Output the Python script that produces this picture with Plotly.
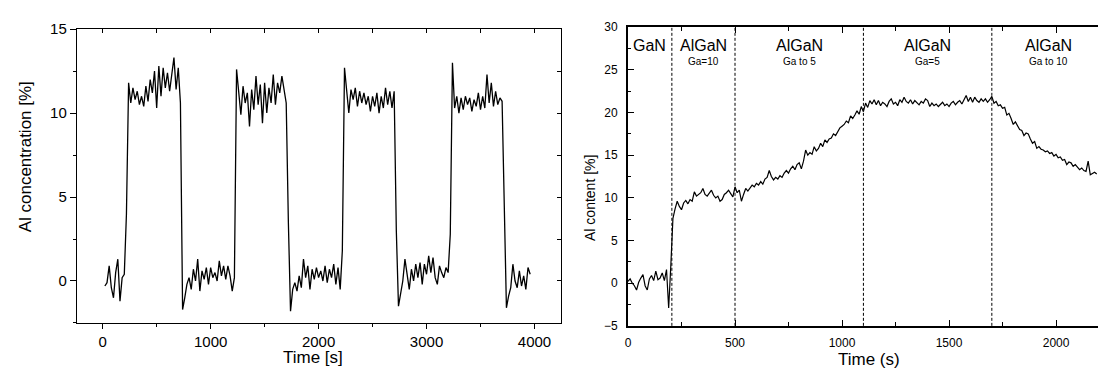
import plotly.graph_objects as go

# ---------------- Left panel: Al concentration vs time (20 s sampling, starts at t=20 s)
left_t0 = 20
left_dt = 20
left_values = [
    # 20..220
    -0.3, -0.1, 0.9, -0.4, -1.0, 0.5, 1.3, -1.2, 0.2, 0.4, 4.0,
    # 240..720 (high 1)
    11.8, 10.6, 11.5, 10.8, 11.3, 10.5, 11.0, 10.4, 11.6, 10.7, 12.0, 11.2, 12.5,
    10.3, 12.8, 11.0, 12.7, 11.5, 12.4, 11.3, 12.2, 13.3, 11.4, 12.7, 10.6,
    # 740..1220 (low 2)
    -1.7, -1.0, -0.2, 0.2, -0.5, 0.7, 0.0, 1.3, -0.6, 0.6, 0.1, 0.8, -0.2,
    0.8, 0.2, 0.5, 0.0, 1.2, 0.3, 0.9, 0.1, 0.9, 0.3, -0.6, 0.2,
    # 1240..1720 (high 2)
    12.6, 11.3, 9.9, 11.6, 10.6, 11.2, 9.2, 11.4, 10.2, 12.2, 10.5, 11.7, 9.4,
    11.8, 10.0, 11.5, 10.6, 12.3, 10.5, 11.8, 11.2, 12.2, 11.3, 10.6, 3.5,
    # 1740..2220 (low 3)
    -1.8, -0.5, -0.1, -0.6, 0.3, -0.4, 1.3, 0.2, 0.9, -0.5, 0.7, 0.1, 0.8,
    0.2, 0.6, 0.0, 0.9, -0.1, 0.7, 0.2, 1.0, -0.2, 0.8, -0.5, 1.8,
    # 2240..2720 (high 3)
    12.7, 11.3, 10.0, 11.4, 10.8, 11.5, 10.4, 11.3, 10.6, 11.2, 10.5, 11.0, 10.1,
    11.0, 10.4, 11.2, 10.0, 11.0, 10.3, 11.5, 10.5, 11.3, 10.3, 11.3, 3.0,
    # 2740..3220 (low 4)
    -1.5, -0.6, 0.0, 1.3, 0.3, -0.5, 0.7, 0.0, 1.0, 0.2, 1.1, -0.2, 1.0,
    0.4, 1.5, 0.5, 1.4, 0.2, -0.2, 0.9, 0.5, 0.2, 0.8, 0.5, 2.8,
    # 3240..3720 (high 4)
    13.0, 10.3, 11.0, 10.0, 10.9, 10.2, 11.0, 10.5, 10.9, 10.1, 10.8, 10.4, 11.2,
    10.2, 11.0, 10.3, 12.3, 10.6, 11.8, 10.4, 11.3, 10.5, 10.9, 10.7, 4.0,
    # 3740..3960 (low 5)
    -1.6, -0.9, -0.4, 1.0, 0.0, -0.4, 0.6, -0.3, 0.3, -0.5, 0.8, 0.4,
]
left_time = [left_t0 + left_dt * i for i in range(len(left_values))]

# ---------------- Right panel: Al content vs time (10 s sampling from t=0)
right_t0 = 0
right_dt = 10
right_values = [
    0.2, 0.5, 0.0, -0.3, -0.8, 0.1, 0.6, 1.0, -0.3, -0.8,          # 0-90
    0.5, 0.9, 0.3, 1.4, 0.4, 0.6, 1.2, 0.3, 1.6, -2.9,             # 100-190
    2.0, 7.6, 8.7, 9.6, 9.0, 8.6, 9.4, 9.7, 9.3, 9.8,              # 200-290
    9.6, 10.7, 10.2, 10.4, 10.6, 11.1, 10.4, 10.2, 10.6, 10.9,     # 300-390
    10.3, 10.0, 10.2, 9.6, 9.8, 10.4, 10.6, 10.9, 10.5, 10.1,      # 400-490
    11.3, 10.6, 10.9, 9.6, 10.4, 11.1, 10.8, 11.2, 11.5, 11.3,     # 500-590
    11.7, 11.5, 11.9, 11.6, 12.2, 12.4, 13.2, 12.5, 12.1, 12.4,    # 600-690
    12.2, 12.6, 12.4, 12.9, 13.2, 12.9, 13.4, 13.7, 13.3, 13.9,    # 700-790
    14.1, 13.4, 14.3, 15.6, 15.0, 15.3, 15.1, 16.0, 15.5, 15.8,    # 800-890
    16.4, 16.0, 16.8, 16.5, 16.9, 17.0, 17.5, 17.3, 17.8, 18.2,    # 900-990
    18.4, 18.6, 19.0, 18.8, 19.6, 19.3, 19.7, 20.2, 19.8, 20.7,    # 1000-1090
    20.1, 21.1, 20.6, 21.4, 21.0, 21.5, 20.9, 21.4, 20.8, 21.2,    # 1100-1190
    21.0, 20.7, 21.3, 21.6, 21.0, 21.2, 20.8, 21.5, 21.2, 21.8,    # 1200-1290
    21.3, 21.1, 21.5, 21.0, 21.4, 21.2, 20.9, 21.3, 21.1, 21.6,    # 1300-1390
    21.4, 20.7, 21.1, 20.8, 21.0, 20.7, 20.9, 21.2, 20.8, 21.0,    # 1400-1490
    20.7, 21.1, 21.3, 20.9, 21.2, 21.4, 21.0, 21.5, 22.0, 21.3,    # 1500-1590
    21.8, 21.2, 21.8, 21.4, 21.2, 21.6, 21.3, 21.6, 21.2, 21.5,    # 1600-1690
    21.9, 21.1, 21.3, 20.8, 20.9, 20.5, 20.6, 19.7, 19.9, 19.3,    # 1700-1790
    18.6, 18.9, 18.4, 18.0, 17.9, 17.3, 17.6, 17.5, 16.9, 16.4,    # 1800-1890
    16.6, 15.8, 16.0, 15.7, 15.6, 15.4, 15.5, 15.2, 15.3, 14.9,    # 1900-1990
    15.1, 14.7, 14.8, 14.4, 14.5, 13.9, 14.2, 14.1, 13.7, 13.9,    # 2000-2090
    13.6, 13.3, 13.5, 13.2, 13.1, 14.3, 12.7, 12.9, 13.0, 12.8,    # 2100-2190
]
right_time = [right_t0 + right_dt * i for i in range(len(right_values))]

# region boundaries and labels (right panel)
boundaries = [205, 500, 1100, 1700]
region_centers = [102, 352, 800, 1400, 1965]
region_names = ["GaN", "AlGaN", "AlGaN", "AlGaN", "AlGaN"]
region_subs = ["", "Ga=10", "Ga to 5", "Ga=5", "Ga to 10"]

FONT = "Arial, Liberation Sans, sans-serif"
W, H = 1098, 374

fig = go.Figure()
fig.add_trace(go.Scatter(x=left_time, y=left_values, mode="lines",
                         line=dict(color="black", width=1.3),
                         xaxis="x", yaxis="y", showlegend=False, hoverinfo="skip"))
# dummy trace to activate overlay axes (inside ticks on top/right of left panel)
fig.add_trace(go.Scatter(x=[None], y=[None], mode="lines", xaxis="x3", yaxis="y3",
                         showlegend=False, hoverinfo="skip"))
fig.add_trace(go.Scatter(x=right_time, y=right_values, mode="lines",
                         line=dict(color="black", width=1.2),
                         xaxis="x2", yaxis="y2", showlegend=False, hoverinfo="skip"))

left_xdom = [74 / W, 560 / W]
left_ydom = [(H - 328) / H, (H - 21) / H]
right_xdom = [626.7 / W, 1.0]
right_ydom = [(H - 331) / H, (H - 19) / H]

left_xrange = [-240, 4250]
left_yrange = [-2.5, 15]

fig.update_layout(
    width=W, height=H, autosize=False,
    margin=dict(l=0, r=0, t=0, b=0),
    paper_bgcolor="white", plot_bgcolor="white",
    font=dict(family=FONT, color="black"),
    xaxis=dict(domain=left_xdom, range=left_xrange, anchor="y",
               showline=True, linecolor="black", linewidth=1, mirror=True,
               ticks="outside", ticklen=5, tickwidth=1, tickcolor="black",
               dtick=1000, tick0=0, showgrid=False, zeroline=False,
               minor=dict(ticks="outside", ticklen=3, dtick=500, tick0=0, tickcolor="black"),
               tickfont=dict(size=15), ticklabelstandoff=0),
    yaxis=dict(domain=left_ydom, range=left_yrange, anchor="x",
               showline=True, linecolor="black", linewidth=1, mirror=True,
               ticks="outside", ticklen=6, tickwidth=1, tickcolor="black",
               dtick=5, tick0=0, showgrid=False, zeroline=False,
               minor=dict(ticks="outside", ticklen=3, dtick=2.5, tick0=0, tickcolor="black"),
               tickfont=dict(size=15)),
    xaxis3=dict(overlaying="x", side="top", anchor="y", range=left_xrange,
                showline=False, ticks="inside", ticklen=4, tickcolor="black",
                dtick=500, tick0=0, showticklabels=False, showgrid=False, zeroline=False),
    yaxis3=dict(overlaying="y", side="right", anchor="x", range=left_yrange,
                showline=False, ticks="inside", ticklen=4, tickcolor="black",
                dtick=2.5, tick0=0, showticklabels=False, showgrid=False, zeroline=False),
    xaxis2=dict(domain=right_xdom, range=[0, 2196], anchor="y2",
                showline=True, linecolor="black", linewidth=2, mirror="ticks",
                ticks="inside", ticklen=6, tickwidth=1, tickcolor="black",
                dtick=500, tick0=0, showgrid=False, zeroline=False,
                minor=dict(ticks="inside", ticklen=4, dtick=250, tick0=0, tickcolor="black"),
                tickfont=dict(size=12), ticklabelstandoff=5),
    yaxis2=dict(domain=right_ydom, range=[-5, 30], anchor="x2",
                showline=True, linecolor="black", linewidth=2,
                ticks="inside", ticklen=6, tickwidth=1, tickcolor="black",
                dtick=5, tick0=0, showgrid=False, zeroline=False,
                minor=dict(ticks="inside", ticklen=3, dtick=2.5, tick0=0, tickcolor="black"),
                tickfont=dict(size=12), ticklabelstandoff=6),
)

# dashed boundary lines
for b in boundaries:
    fig.add_shape(type="line", xref="x2", yref="y2 domain", x0=b, x1=b, y0=0, y1=1,
                  line=dict(color="black", width=1, dash="3px,2px"))

# region labels
for cx, name, sub in zip(region_centers, region_names, region_subs):
    fig.add_annotation(x=cx, y=27.8, xref="x2", yref="y2", text=name, showarrow=False,
                       font=dict(size=16, family=FONT), xanchor="center", yanchor="middle")
    if sub:
        fig.add_annotation(x=cx, y=26.0, xref="x2", yref="y2", text=sub, showarrow=False,
                           font=dict(size=10, family=FONT), xanchor="center", yanchor="middle")

# axis titles
fig.add_annotation(x=22 / W, y=(H - 154) / H, xref="paper", yref="paper",
                   text="Al concentration [%]", textangle=-90, showarrow=False,
                   font=dict(size=17), xanchor="center", yanchor="middle")
fig.add_annotation(x=311 / W, y=0, xref="paper", yref="paper",
                   text="Time [s]", showarrow=False, borderpad=0,
                   font=dict(size=17), xanchor="center", yanchor="bottom", yshift=-1)
fig.add_annotation(x=588 / W, y=(H - 197) / H, xref="paper", yref="paper",
                   text="Al content [%]", textangle=-90, showarrow=False,
                   font=dict(size=14), xanchor="center", yanchor="middle")
fig.add_annotation(x=868 / W, y=0, xref="paper", yref="paper",
                   text="Time (s)", showarrow=False,
                   font=dict(size=17), xanchor="center", yanchor="bottom", yshift=-4)

# remove the default page margin so the figure fills the 1098x374 window exactly
fig.write_html("out.html",
               config={"displayModeBar": False},
               post_script="document.body.style.margin='0';document.body.style.overflow='hidden';")
